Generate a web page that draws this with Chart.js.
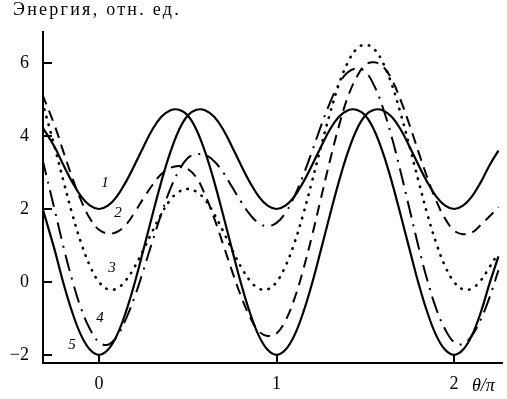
<!DOCTYPE html>
<html>
<head>
<meta charset="utf-8">
<script src="https://cdn.jsdelivr.net/npm/chart.js@4/dist/chart.umd.min.js"></script>
<style>
  html, body { margin: 0; padding: 0; background: #fff; }
  #wrap { width: 507px; height: 399px; }
</style>
</head>
<body>
<div id="wrap"><canvas id="main" width="507" height="399"></canvas></div>
<script>
const xs = [-0.32, -0.25, -0.2, -0.15, -0.1, -0.05, 0,
  0.05, 0.1, 0.15, 0.2, 0.25, 0.3, 0.35, 0.4, 0.45, 0.5, 0.55, 0.6, 0.65, 0.7, 0.75, 0.8, 0.85, 0.9, 0.95, 1,
  1.05, 1.1, 1.15, 1.2, 1.25, 1.3, 1.35, 1.4, 1.45, 1.5, 1.55, 1.6, 1.65, 1.7, 1.75, 1.8, 1.85, 1.9, 1.95, 2,
  2.05, 2.1, 2.15, 2.2, 2.25];

const curve1 = [4.25, 3.70, 3.20, 2.73, 2.34, 2.09, 2.00,
  2.09, 2.34, 2.73, 3.20, 3.70, 4.17, 4.52, 4.70, 4.72, 4.56, 4.16, 3.53, 2.73, 1.82, 0.88, -0.04, -0.84, -1.47, -1.86, -2.00,
  -1.86, -1.47, -0.84, -0.04, 0.88, 1.82, 2.73, 3.53, 4.16, 4.56, 4.72, 4.70, 4.52, 4.17, 3.70, 3.20, 2.73, 2.34, 2.09, 2.00,
  2.09, 2.34, 2.73, 3.20, 3.60];

const curve2 = [5.15, 4.29, 3.56, 2.85, 2.22, 1.73, 1.43,
  1.33, 1.37, 1.56, 1.90, 2.29, 2.65, 2.95, 3.12, 3.18, 3.10, 2.85, 2.36, 1.73, 1.02, 0.29, -0.39, -0.96, -1.35, -1.48, -1.41,
  -1.06, -0.47, 0.33, 1.27, 2.29, 3.31, 4.25, 5.05, 5.60, 5.95, 6.02, 5.90, 5.54, 4.97, 4.29, 3.56, 2.85, 2.22, 1.73, 1.41,
  1.31, 1.35, 1.56, 1.80, 2.05];

const curve3 = [4.95, 3.70, 2.76, 1.85, 1.06, 0.43, 0.00,
  -0.20, -0.18, 0.04, 0.41, 0.88, 1.38, 1.85, 2.24, 2.47, 2.55, 2.47, 2.24, 1.85, 1.38, 0.88, 0.41, 0.04, -0.18, -0.20, 0.00,
  0.43, 1.06, 1.85, 2.76, 3.70, 4.60, 5.40, 6.00, 6.38, 6.50, 6.38, 6.00, 5.40, 4.60, 3.70, 2.76, 1.85, 1.06, 0.43, 0.00,
  -0.20, -0.18, 0.04, 0.41, 0.80];

const curve4 = [3.39, 1.98, 0.96, 0.04, -0.74, -1.30, -1.65,
  -1.72, -1.50, -1.03, -0.42, 0.32, 1.10, 1.85, 2.53, 3.05, 3.40, 3.50, 3.48, 3.30, 3.00, 2.60, 2.20, 1.85, 1.61, 1.53, 1.62,
  1.89, 2.34, 2.92, 3.58, 4.27, 4.90, 5.42, 5.74, 5.85, 5.76, 5.38, 4.76, 3.95, 3.00, 1.98, 0.96, 0.04, -0.74, -1.30, -1.65,
  -1.70, -1.47, -1.03, -0.42, 0.32];

const curve5 = [2.05, 0.88, -0.04, -0.84, -1.47, -1.86, -2.00,
  -1.86, -1.47, -0.84, -0.04, 0.88, 1.82, 2.73, 3.53, 4.16, 4.56, 4.72, 4.70, 4.52, 4.17, 3.70, 3.20, 2.73, 2.34, 2.09, 2.00,
  2.09, 2.34, 2.73, 3.20, 3.70, 4.17, 4.52, 4.70, 4.72, 4.56, 4.16, 3.53, 2.73, 1.82, 0.88, -0.04, -0.84, -1.47, -1.86, -2.00,
  -1.86, -1.47, -0.84, -0.04, 0.70];

const yTicks = [-2, 0, 2, 4, 6];
const xTicks = [0, 1, 2];
const yTitle = 'Энергия, отн. ед.';
const xTitle = 'θ/π';

// curve numbers, placed in data units next to the curves
const curveNames = ['1', '2', '3', '4', '5'];
const nameAtX = [0.034, 0.107, 0.073, 0.006, -0.152];
const nameAtY = [2.71, 1.89, 0.38, -0.99, -1.73];

const serif = '"Liberation Serif", "Times New Roman", serif';

const toPoints = vals => vals.map((v, i) => ({ x: xs[i], y: v }));

const lineSet = (vals, dash, width, cap) => ({
  data: toPoints(vals),
  borderColor: '#000',
  borderWidth: width,
  borderDash: dash,
  borderCapStyle: cap || 'butt',
  pointRadius: 0,
  tension: 0.4,
  fill: false,
});

const extras = {
  id: 'extras',
  afterDraw(chart) {
    const { ctx, chartArea: a, scales: { x, y } } = chart;
    ctx.save();
    // inward tick marks
    ctx.strokeStyle = '#000';
    ctx.lineWidth = 2;
    y.ticks.forEach(t => {
      const py = Math.round(y.getPixelForValue(t.value));
      ctx.beginPath();
      ctx.moveTo(a.left, py);
      ctx.lineTo(a.left + 9, py);
      ctx.stroke();
    });
    x.ticks.forEach(t => {
      const px = Math.round(x.getPixelForValue(t.value));
      ctx.beginPath();
      ctx.moveTo(px, a.bottom);
      ctx.lineTo(px, a.bottom - 9);
      ctx.stroke();
    });

    ctx.fillStyle = '#000';
    // y title, stretched to the width it has in the original
    ctx.font = '18px ' + serif;
    ctx.textAlign = 'left';
    ctx.textBaseline = 'alphabetic';
    ctx.letterSpacing = '0px';
    const w = ctx.measureText(yTitle).width;
    ctx.letterSpacing = Math.max(0, (168 - w) / yTitle.length) + 'px';
    ctx.fillText(yTitle, 13, 15);
    ctx.letterSpacing = '0px';
    ctx.font = 'italic 18px ' + serif;
    ctx.fillText(xTitle, 472, 391);

    // curve numbers
    ctx.font = 'italic 15px ' + serif;
    ctx.textAlign = 'center';
    ctx.textBaseline = 'middle';
    curveNames.forEach((n, i) => {
      ctx.fillText(n, x.getPixelForValue(nameAtX[i]), y.getPixelForValue(nameAtY[i]));
    });
    ctx.restore();
  }
};

new Chart(document.getElementById('main'), {
  type: 'line',
  data: {
    datasets: [
      lineSet(curve1, [], 2.2),
      lineSet(curve2, [11, 7], 2),
      lineSet(curve3, [0.5, 7.5], 2.6, 'round'),
      lineSet(curve4, [17, 7, 2, 7], 2),
      lineSet(curve5, [], 2.2),
    ],
  },
  options: {
    responsive: false,
    animation: false,
    devicePixelRatio: 1,
    layout: { padding: { top: 32, right: 5, left: 0, bottom: 0 } },
    plugins: { legend: { display: false }, tooltip: { enabled: false } },
    scales: {
      x: {
        type: 'linear',
        min: -0.3155,
        max: 2.27,
        afterFit: s => { s.height = 36; },
        afterBuildTicks: s => { s.ticks = xTicks.map(v => ({ value: v })); },
        grid: { display: false, drawTicks: false },
        border: { display: true, color: '#000', width: 2 },
        ticks: {
          color: '#000',
          font: { family: serif, size: 18 },
          padding: 10,
          maxRotation: 0,
        },
      },
      y: {
        type: 'linear',
        min: -2.22,
        max: 6.85,
        afterFit: s => { s.width = 43; },
        afterBuildTicks: s => { s.ticks = yTicks.map(v => ({ value: v })); },
        grid: { display: false, drawTicks: false },
        border: { display: true, color: '#000', width: 2 },
        ticks: {
          color: '#000',
          font: { family: serif, size: 18 },
          padding: 14,
          callback: v => String(v).replace('-', '\u2212'),
        },
      },
    },
  },
  plugins: [extras],
});
</script>
</body>
</html>
